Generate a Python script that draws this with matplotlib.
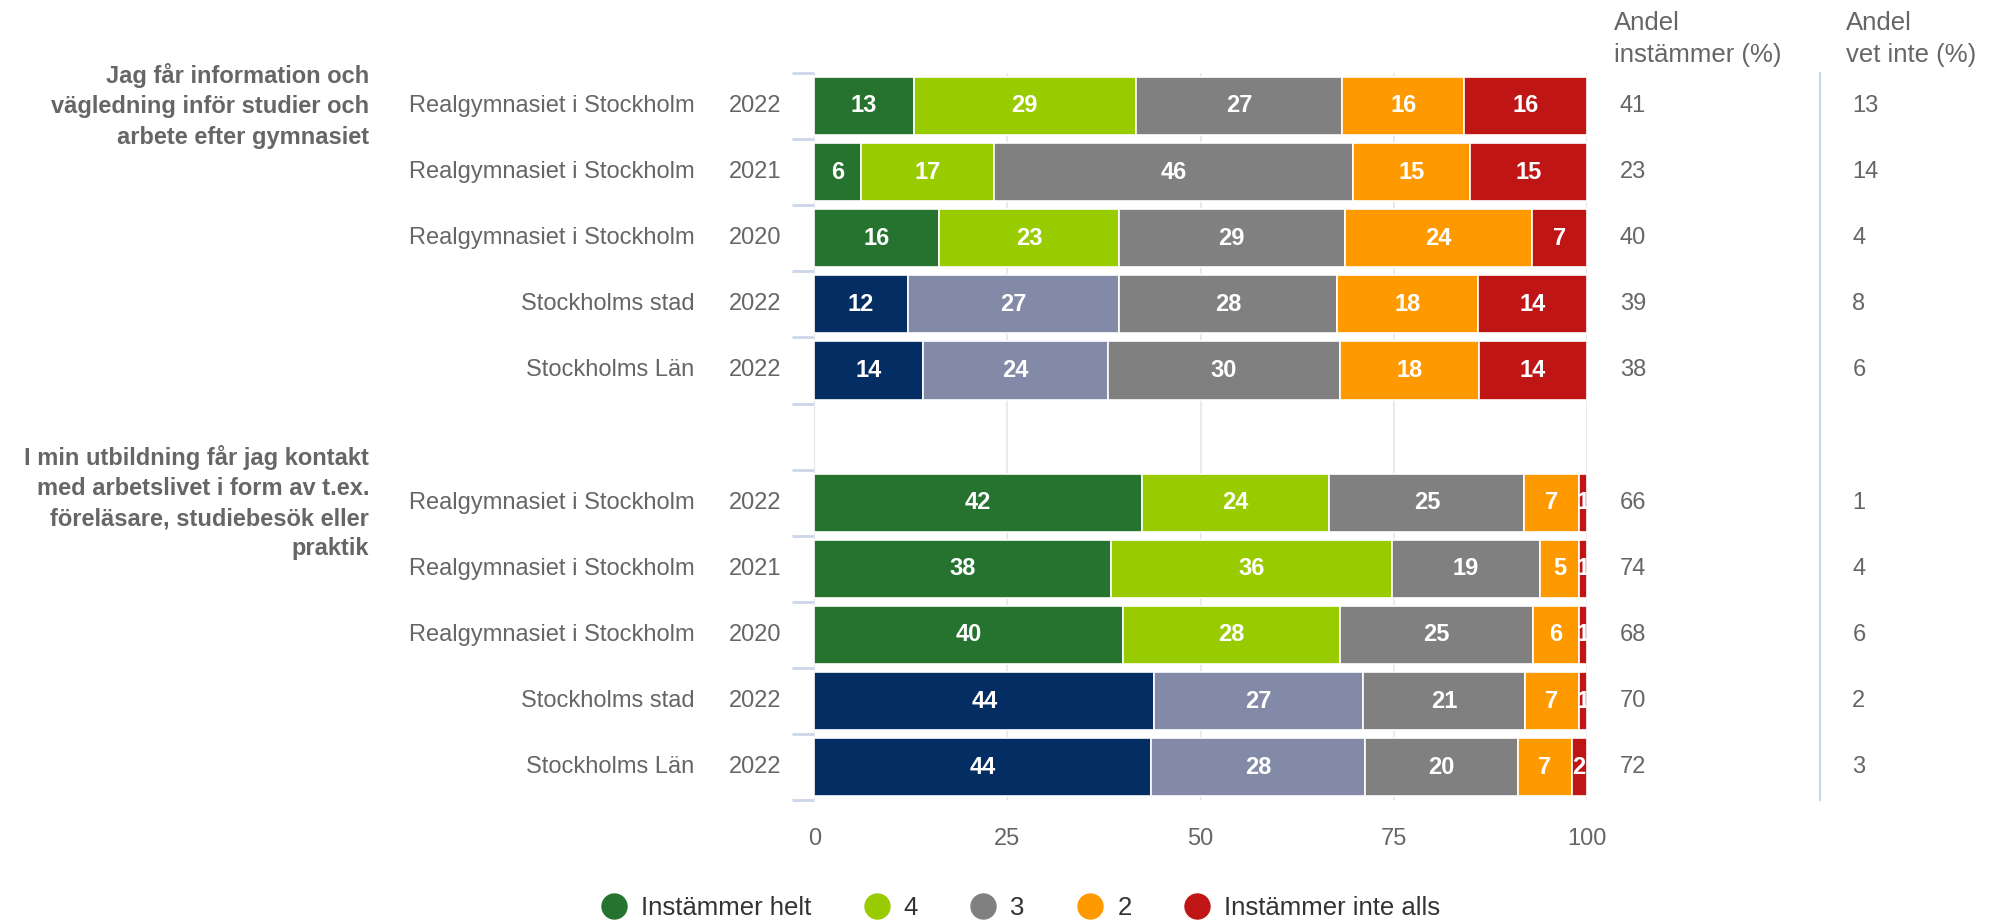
import numpy as np
import matplotlib.pyplot as plt
from matplotlib.lines import Line2D
from matplotlib.transforms import blended_transform_factory

plt.rcParams['font.family'] = ['Liberation Sans', 'DejaVu Sans']

# data
questions = ['Jag får information och\nvägledning inför studier och\narbete efter gymnasiet',
             'I min utbildning får jag kontakt\nmed arbetslivet i form av t.ex.\nföreläsare, studiebesök eller\npraktik']
units = ['Realgymnasiet i Stockholm', 'Realgymnasiet i Stockholm', 'Realgymnasiet i Stockholm',
         'Stockholms stad', 'Stockholms Län']
years = ['2022', '2021', '2020', '2022', '2022']
categories = ['Instämmer helt', '4', '3', '2', 'Instämmer inte alls']

values_q1 = [[13, 29, 27, 16, 16],
             [6, 17, 46, 15, 15],
             [16, 23, 29, 24, 7],
             [12, 27, 28, 18, 14],
             [14, 24, 30, 18, 14]]
values_q2 = [[42, 24, 25, 7, 1],
             [38, 36, 19, 5, 1],
             [40, 28, 25, 6, 1],
             [44, 27, 21, 7, 1],
             [44, 28, 20, 7, 2]]
andel_instammer = [41, 23, 40, 39, 38, 66, 74, 68, 70, 72]
andel_vet_inte = [13, 14, 4, 8, 6, 1, 4, 6, 2, 3]

school_colors = ['#267330', '#99cc00', '#808080', '#ff9900', '#c01515']
compare_colors = ['#032d63', '#828aa7', '#808080', '#ff9900', '#c01515']

txt = '#666666'
fs = 17

fig = plt.figure(figsize=(19.96, 9.22), dpi=100)
ax = fig.add_axes([0.408, 0.132, 0.387, 0.789])

rows = values_q1 + values_q2
ypos = [0, 1, 2, 3, 4, 6, 7, 8, 9, 10]

for i, (y, vals) in enumerate(zip(ypos, rows)):
    vals = np.array(vals, dtype=float)
    widths = vals / vals.sum() * 100
    cols = school_colors if (i % 5) < 3 else compare_colors
    left = 0
    for v, w, c in zip(vals, widths, cols):
        ax.barh(y, w, left=left, height=0.88, color=c, edgecolor='white', linewidth=1.2, zorder=3)
        ax.text(left + w / 2, y, f'{int(v)}', ha='center', va='center', color='white',
                fontsize=fs, fontweight='bold', zorder=4)
        left += w

ax.set_xlim(0, 100)
ax.set_ylim(10.5, -0.5)
ax.set_xticks([0, 25, 50, 75, 100])
ax.set_xticklabels(['0', '25', '50', '75', '100'])
ax.tick_params(axis='x', length=0, pad=20, labelsize=fs, labelcolor=txt)
ax.set_yticks(np.arange(-0.5, 11, 1))
ax.set_yticklabels([])
ax.tick_params(axis='y', length=16, width=2, color='#ccd6eb')
ax.grid(axis='x', color='#e6e6e6', linewidth=1.2, zorder=0)
for s in ['top', 'right', 'bottom']:
    ax.spines[s].set_visible(False)
ax.spines['left'].set_color('#e6e6e6')

tr = blended_transform_factory(fig.transFigure, ax.transData)
for y, u, yr in zip(ypos, units * 2, years * 2):
    ax.text(0.348, y, u, transform=tr, ha='right', va='center', fontsize=fs, color=txt)
    ax.text(0.365, y, yr, transform=tr, ha='left', va='center', fontsize=fs, color=txt)

for q, y in zip(questions, [0, 6]):
    ax.text(0.185, y, q, transform=tr, ha='right', va='center', fontsize=fs, color=txt,
            fontweight='bold', linespacing=1.4)

for y, a, b in zip(ypos, andel_instammer, andel_vet_inte):
    ax.text(0.8116, y, str(a), transform=tr, ha='left', va='center', fontsize=fs, color=txt)
    ax.text(0.928, y, str(b), transform=tr, ha='left', va='center', fontsize=fs, color=txt)

fig.text(0.8086, 0.988, 'Andel\ninstämmer (%)', ha='left', va='top', fontsize=18.5, color=txt, linespacing=1.4)
fig.text(0.925, 0.988, 'Andel\nvet inte (%)', ha='left', va='top', fontsize=18.5, color=txt, linespacing=1.4)
fig.add_artist(Line2D([0.912, 0.912], [0.132, 0.921], transform=fig.transFigure, color='#ccd6eb', linewidth=1.5))

handles = [Line2D([], [], marker='o', linestyle='', markersize=18, color=c) for c in school_colors]
fig.legend(handles, categories, loc='center', bbox_to_anchor=(0.51, 1 - 908 / 922), ncol=5,
           frameon=False, fontsize=18.5, labelcolor='#333333', handletextpad=0.35, columnspacing=1.85,
           handlelength=1.4)

fig.savefig('out.png', dpi=100)
